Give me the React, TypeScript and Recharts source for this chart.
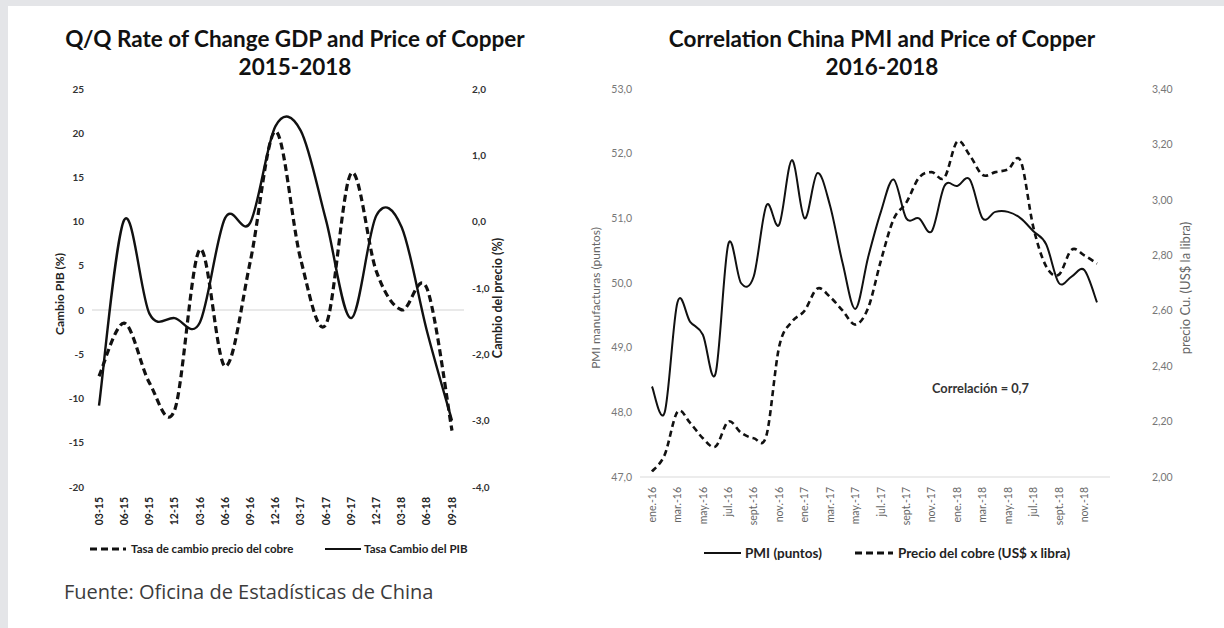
import React from "react"
import { LineChart, Line, XAxis, YAxis, ReferenceLine } from "recharts"

const FONT = "Lato, 'Open Sans', sans-serif"

// left chart: quarterly rate of change
const quarters = ["03-15", "06-15", "09-15", "12-15", "03-16", "06-16", "09-16", "12-16", "03-17", "06-17", "09-17", "12-17", "03-18", "06-18", "09-18"]
const gdpChange = [-10.8, 10.2, -0.4, -0.9, -1.4, 10.4, 9.9, 20.8, 20.3, 10.2, -0.9, 10.7, 9.4, -2.3, -12.5]
const copperChange = [-2.33, -1.53, -2.43, -2.84, -0.42, -2.18, -0.6, 1.36, -0.57, -1.55, 0.73, -0.75, -1.33, -1.0, -3.15]
const gdpTicks = [-20, -15, -10, -5, 0, 5, 10, 15, 20, 25]
const changeTicks = [-4, -3, -2, -1, 0, 1, 2]

// right chart: monthly PMI vs copper price
const months = [
  "ene.-16", "feb.-16", "mar.-16", "abr.-16", "may.-16", "jun.-16", "jul.-16", "ago.-16", "sept.-16", "oct.-16", "nov.-16", "dic.-16",
  "ene.-17", "feb.-17", "mar.-17", "abr.-17", "may.-17", "jun.-17", "jul.-17", "ago.-17", "sept.-17", "oct.-17", "nov.-17", "dic.-17",
  "ene.-18", "feb.-18", "mar.-18", "abr.-18", "may.-18", "jun.-18", "jul.-18", "ago.-18", "sept.-18", "oct.-18", "nov.-18", "dic.-18",
]
const pmi = [48.4, 48.0, 49.7, 49.4, 49.2, 48.6, 50.6, 50.0, 50.1, 51.2, 50.9, 51.9, 51.0, 51.7, 51.2, 50.3, 49.6, 50.4, 51.1, 51.6, 51.0, 51.0, 50.8, 51.5, 51.5, 51.6, 51.0, 51.1, 51.1, 51.0, 50.8, 50.6, 50.0, 50.1, 50.2, 49.7]
const copperPrice = [2.02, 2.08, 2.235, 2.195, 2.14, 2.11, 2.2, 2.16, 2.14, 2.15, 2.47, 2.56, 2.6, 2.68, 2.65, 2.6, 2.55, 2.61, 2.78, 2.93, 2.99, 3.08, 3.1, 3.08, 3.21, 3.16, 3.09, 3.1, 3.11, 3.14, 2.9, 2.76, 2.73, 2.82, 2.8, 2.77]
const pmiTicks = [47, 48, 49, 50, 51, 52, 53]
const priceTicks = [2.0, 2.2, 2.4, 2.6, 2.8, 3.0, 3.2, 3.4]

const quarterData = quarters.map((q, i) => ({ q, gdp: gdpChange[i], cu: copperChange[i] }))
const monthData = months.map((m, i) => ({ m, pmi: pmi[i], cu: copperPrice[i] }))

const comma = (d: number) => (v: number) => v.toFixed(d).replace(".", ",")

// Excel-like smoothed line (Catmull-Rom through the points)
const smoothCurve: any = (context: any) => {
  let pts: number[][] = []
  return {
    areaStart() {},
    areaEnd() {},
    lineStart() {
      pts = []
    },
    point(x: number, y: number) {
      pts.push([+x, +y])
    },
    lineEnd() {
      const n = pts.length
      if (!n) return
      context.moveTo(pts[0][0], pts[0][1])
      for (let i = 0; i < n - 1; i++) {
        const p0 = pts[Math.max(i - 1, 0)]
        const p1 = pts[i]
        const p2 = pts[i + 1]
        const p3 = pts[Math.min(i + 2, n - 1)]
        context.bezierCurveTo(
          p1[0] + (p2[0] - p0[0]) / 6,
          p1[1] + (p2[1] - p0[1]) / 6,
          p2[0] - (p3[0] - p1[0]) / 6,
          p2[1] - (p3[1] - p1[1]) / 6,
          p2[0],
          p2[1]
        )
      }
    },
  }
}

const RotatedTick = (props: any) => {
  const { x, y, payload, fill, weight, size } = props
  return (
    <text
      transform={`translate(${x},${y + 2}) rotate(-90)`}
      textAnchor="end"
      dy="0.35em"
      fontSize={size}
      fontWeight={weight}
      fill={fill}
      fontFamily={FONT}
    >
      {payload.value}
    </text>
  )
}

const abs = (left: number, top: number): React.CSSProperties => ({ position: "absolute", left, top })

const VTitle = ({ cx, cy, text, color, size, weight }: any) => (
  <div
    style={{
      position: "absolute",
      left: cx,
      top: cy,
      transform: "translate(-50%, -50%) rotate(-90deg)",
      whiteSpace: "nowrap",
      fontFamily: FONT,
      fontSize: size,
      fontWeight: weight,
      color,
    }}
  >
    {text}
  </div>
)

const LegendItem = ({ x, y, dashed, width, label, textX, size }: any) => (
  <>
    <svg style={{ ...abs(x, y - 4), overflow: "visible" }} width={width} height={8}>
      <line x1={0} y1={4} x2={width} y2={4} stroke="#111" strokeWidth={dashed ? 3 : 2.2} strokeDasharray={dashed ? "7 4" : undefined} />
    </svg>
    <div style={{ ...abs(textX, y - 9), fontFamily: FONT, fontSize: size, fontWeight: 700, color: "#222", whiteSpace: "nowrap", lineHeight: "18px" }}>
      {label}
    </div>
  </>
)

const titleStyle = (cx: number): React.CSSProperties => ({
  position: "absolute",
  left: cx - 300,
  width: 600,
  top: 25,
  textAlign: "center",
  fontFamily: FONT,
  fontWeight: 700,
  fontSize: 22.5,
  lineHeight: "28px",
  color: "#111",
})

export default function App() {
  return (
    <div style={{ position: "relative", width: 1224, height: 628, background: "#e4e5e8", overflow: "hidden" }}>
      <style>{`body{margin:0}`}</style>
      <div style={{ position: "absolute", left: 8, top: 6, right: 0, bottom: 0, background: "#fff" }} />

      <div style={titleStyle(295)}>
        Q/Q Rate of Change GDP and Price of Copper
        <br />
        2015-2018
      </div>
      <div style={titleStyle(882)}>
        Correlation China PMI and Price of Copper
        <br />
        2016-2018
      </div>

      {/* left chart */}
      <div style={abs(0, 80)}>
        <LineChart width={560} height={480} data={quarterData} margin={{ top: 9, right: 36, bottom: 28, left: 32 }}>
          <XAxis
            dataKey="q"
            interval={0}
            axisLine={false}
            tickLine={false}
            height={45}
            padding={{ left: 7, right: 12 }}
            tick={(p: any) => <RotatedTick {...p} fill="#222" weight={700} size={10.5} />}
          />
          <YAxis
            yAxisId="left"
            domain={[-20, 25]}
            ticks={gdpTicks}
            width={60}
            axisLine={false}
            tickLine={false}
            tick={{ fontSize: 10, fontWeight: 700, fill: "#333", fontFamily: FONT }}
          />
          <YAxis
            yAxisId="right"
            orientation="right"
            domain={[-4, 2]}
            ticks={changeTicks}
            tickFormatter={comma(1)}
            width={60}
            axisLine={false}
            tickLine={false}
            tick={{ fontSize: 10, fontWeight: 700, fill: "#333", fontFamily: FONT, textAnchor: "start" }}
          />
          <ReferenceLine yAxisId="left" y={0} stroke="#e2e2e2" strokeWidth={1.5} />
          <Line yAxisId="left" dataKey="gdp" type={smoothCurve} stroke="#111" strokeWidth={2.4} dot={false} isAnimationActive={false} />
          <Line yAxisId="right" dataKey="cu" type={smoothCurve} stroke="#111" strokeWidth={3.2} strokeDasharray="7 4" dot={false} isAnimationActive={false} />
        </LineChart>
      </div>
      <VTitle cx={59} cy={294} text="Cambio PIB (%)" color="#222" size={12} weight={700} />
      <VTitle cx={497} cy={298} text="Cambio del precio (%)" color="#222" size={12.5} weight={700} />
      <LegendItem x={90} y={549} dashed width={36} textX={131} size={11.5} label="Tasa de cambio precio del cobre" />
      <LegendItem x={325} y={549} width={36} textX={364} size={11.5} label="Tasa Cambio del PIB" />

      {/* right chart */}
      <div style={abs(580, 80)}>
        <LineChart width={630} height={480} data={monthData} margin={{ top: 9, right: 15, bottom: 28, left: 8 }}>
          <XAxis
            dataKey="m"
            interval={1}
            axisLine={{ stroke: "#e6e6e6", strokeWidth: 1.5 }}
            tickLine={false}
            height={55}
            padding={{ left: 12, right: 13 }}
            tick={(p: any) => <RotatedTick {...p} fill="#666" weight={400} size={10.5} />}
          />
          <YAxis
            yAxisId="left"
            domain={[47, 53]}
            ticks={pmiTicks}
            tickFormatter={comma(1)}
            width={52}
            axisLine={false}
            tickLine={false}
            tick={{ fontSize: 10.5, fill: "#777", fontFamily: FONT }}
          />
          <YAxis
            yAxisId="right"
            orientation="right"
            domain={[2, 3.4]}
            ticks={priceTicks}
            tickFormatter={comma(2)}
            width={85}
            tickMargin={36}
            axisLine={false}
            tickLine={false}
            tick={{ fontSize: 10.5, fill: "#777", fontFamily: FONT, textAnchor: "start" }}
          />
          <Line yAxisId="left" dataKey="pmi" type={smoothCurve} stroke="#111" strokeWidth={2} dot={false} isAnimationActive={false} />
          <Line yAxisId="right" dataKey="cu" type={smoothCurve} stroke="#111" strokeWidth={2.6} strokeDasharray="6 4" dot={false} isAnimationActive={false} />
        </LineChart>
      </div>
      <VTitle cx={595} cy={298} text="PMI manufacturas (puntos)" color="#666" size={12} weight={400} />
      <VTitle cx={1185} cy={288} text="precio Cu. (US$ la libra)" color="#666" size={13} weight={400} />
      <div style={{ ...abs(932, 380), fontFamily: FONT, fontSize: 12.8, fontWeight: 700, color: "#333", whiteSpace: "nowrap" }}>
        Correlación = 0,7
      </div>
      <LegendItem x={704} y={553} width={37} textX={745} size={13.5} label="PMI (puntos)" />
      <LegendItem x={855} y={553} dashed width={38} textX={898} size={13.5} label="Precio del cobre (US$ x libra)" />

      <div style={{ ...abs(64, 578), fontFamily: "'Open Sans', sans-serif", fontSize: 20, color: "#3c3c3c", whiteSpace: "nowrap" }}>
        Fuente: Oficina de Estadísticas de China
      </div>
    </div>
  )
}
